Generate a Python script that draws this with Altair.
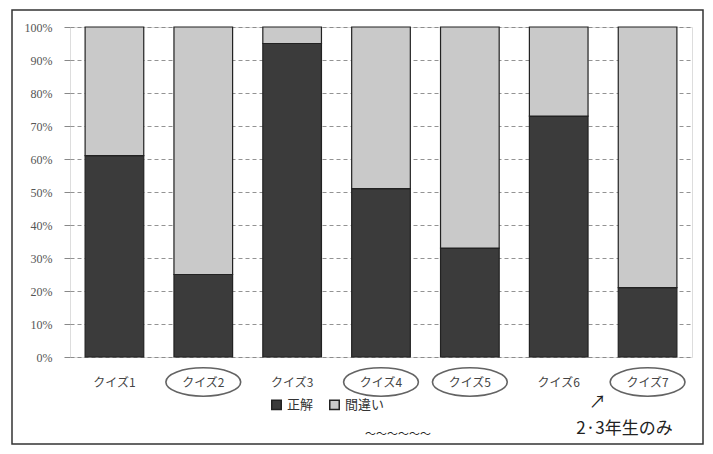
import altair as alt
import pandas as pd

quizzes = ["クイズ1", "クイズ2", "クイズ3", "クイズ4", "クイズ5", "クイズ6", "クイズ7"]
correct = [61, 25, 95, 51, 33, 73, 21]
wrong = [100 - c for c in correct]
series = ["正解", "間違い"]
circled = ["クイズ2", "クイズ4", "クイズ5", "クイズ7"]
note = "2·3年生のみ"

rows = []
for q, c, w in zip(quizzes, correct, wrong):
    rows.append({"quiz": q, "kind": series[0], "order": 0, "value": c})
    rows.append({"quiz": q, "kind": series[1], "order": 1, "value": w})
df = pd.DataFrame(rows)

FONT = "Noto Sans CJK JP"

x_enc = alt.X("quiz:N", sort=quizzes, title=None,
              scale=alt.Scale(paddingInner=0.34, paddingOuter=0.17),
              axis=alt.Axis(labelAngle=0, labelFontSize=12, labelColor="#444",
                            labelPadding=20, ticks=False, domain=False,
                            labelFont=FONT))

bars = alt.Chart(df).mark_bar(stroke="#222", strokeWidth=1.2).encode(
    x=x_enc,
    y=alt.Y("value:Q", stack="normalize", title=None,
            scale=alt.Scale(domain=[0, 1]),
            axis=alt.Axis(format="%", values=[i / 10 for i in range(11)],
                          labelFontSize=12, labelColor="#555", labelFont="Liberation Serif",
                          labelPadding=12, tickSize=6, tickColor="#888", domain=False,
                          grid=True, gridDash=[4, 3], gridColor="#777", gridWidth=0.8)),
    color=alt.Color("kind:N", sort=series, title=None,
                    scale=alt.Scale(domain=series, range=["#3b3b3b", "#c9c9c9"]),
                    legend=alt.Legend(orient="none", legendX=200, legendY=371,
                                      direction="horizontal", symbolType="square",
                                      symbolSize=90, symbolStrokeColor="#222",
                                      labelFontSize=13, labelFont=FONT, labelColor="#333",
                                      columnPadding=12)),
    order=alt.Order("order:Q", sort="ascending"),
)

circ_df = pd.DataFrame({"quiz": circled})
ellipses = alt.Chart(circ_df).mark_point(
    shape="M-1,0 A1,0.38 0 1,0 1,0 A1,0.38 0 1,0 -1,0",
    size=5600, filled=False, stroke="#222", strokeWidth=1.6,
).encode(x=alt.X("quiz:N", sort=quizzes), y=alt.value(355))

note_df = pd.DataFrame({"quiz": ["クイズ7"], "label": [note], "arrow": ["↗"]})
note_text = alt.Chart(note_df).mark_text(
    font=FONT, fontSize=17, color="#222", dx=-23, align="center"
).encode(x=alt.X("quiz:N", sort=quizzes), y=alt.value(402), text="label:N")
arrow_text = alt.Chart(note_df).mark_text(
    font=FONT, fontSize=17, color="#222", dx=-50
).encode(x=alt.X("quiz:N", sort=quizzes), y=alt.value(376), text="arrow:N")

wave_df = pd.DataFrame({"w": ["～～～～～～"]})
wave = alt.Chart(wave_df).mark_text(font=FONT, fontSize=11, color="#222").encode(
    x=alt.value(328), y=alt.value(408), text="w:N")

frame_df = pd.DataFrame({"f": [0]})
frame = alt.Chart(frame_df).mark_rect(fill=None, stroke="#333", strokeWidth=1.5).encode(
    x=alt.value(-58), x2=alt.value(633), y=alt.value(-17), y2=alt.value(417))

chart = alt.layer(bars, ellipses, note_text, arrow_text, wave, frame).properties(
    width=622, height=330,
    autosize=alt.AutoSizeParams(type="none"),
    padding={"left": 62, "top": 19, "right": 13, "bottom": 89},
).configure_view(stroke=None).configure(background="white")

chart.save("out.html", embed_options={"renderer": "svg", "actions": False})
